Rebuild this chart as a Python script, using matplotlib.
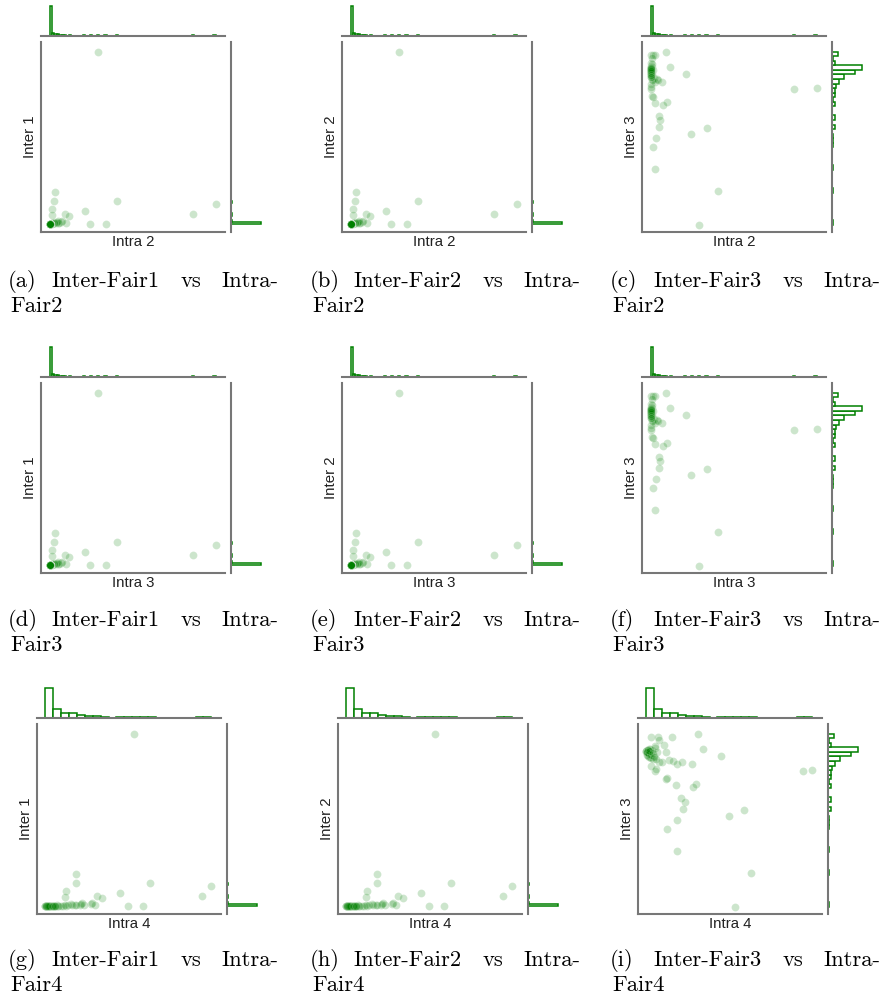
import numpy as np
import matplotlib
matplotlib.use('Agg')
import matplotlib.pyplot as plt

# values (arbitrary units, no ticks in the original)
intra2 = [180, 237, 465, 532, 202, 155, 139, 81, 93, 69, 82, 70, 59, 62, 59, 50, 40, 48, 38, 48, 35, 40,
          36, 40, 46, 38, 36, 34, 38, 34, 35, 34, 37, 44, 52, 40, 34, 36, 46, 55, 35, 39, 35, 34, 35, 34, 38,
          36, 35, 42, 35, 34, 36, 35, 37,
          34, 35, 34, 35, 34, 35, 35, 34, 35, 34,
          34, 35, 34, 36, 35, 34, 35, 36, 34, 35, 34, 35]
# intra 3 looks the same as intra 2 in the picture
intra3 = list(intra2)
intra4 = [298, 346, 503, 531, 327, 282, 257, 188, 204, 169, 181, 172, 136, 150, 144, 125, 96, 124, 96, 121, 58, 92,
          47, 68, 109, 70, 85, 60, 40, 34, 38, 42, 48, 100, 112, 70, 33, 48, 124, 140, 35, 55, 36, 33, 44, 62, 80,
          50, 40, 92, 45, 38, 65, 52, 58,
          34, 36, 34, 39, 33, 42, 37, 35, 41, 34,
          35, 38, 42, 45, 36, 40, 47, 44, 39, 52, 57, 63]
inter1 = [540, 95, 57, 85, 26, 27, 66, 58, 50, 33, 29, 35, 30, 29, 35, 122, 73, 96, 27, 30, 27, 55,
          27, 29, 32, 27, 27, 26, 27, 26, 26, 26, 27, 30, 31, 28, 26, 27, 29, 32, 26, 27, 26, 26, 26, 26, 28,
          27, 26, 30, 27, 26, 27, 26, 28,
          26, 26, 26, 26, 26, 27, 26, 26, 26, 26,
          26, 26, 27, 26, 26, 27, 26, 26, 26, 27, 26, 26]
# inter 2 looks the same as inter 1
inter2 = list(inter1)
inter3 = [25, 124, 429, 433, 313, 295, 475, 540, 496, 449, 391, 381, 349, 338, 316, 282, 256, 191, 408, 386, 429, 405,
          531, 530, 531, 520, 507, 497, 495, 485, 480, 470, 467, 463, 459, 455, 487, 445, 450, 455, 490, 475, 483,
          488, 477, 435, 457, 493, 480, 485, 471, 475, 487, 465, 502,
          489, 486, 491, 484, 488, 485, 492, 487, 489, 486,
          478, 482, 490, 494, 486, 481, 476, 488, 492, 484, 470, 465]

x_data = [intra2, intra3, intra4]
x_names = ['Intra 2', 'Intra 3', 'Intra 4']
y_data = [inter1, inter2, inter3]
y_names = ['Inter 1', 'Inter 2', 'Inter 3']
x_bins = [70, 70, 21]
y_bins = [80, 80, 38]

W, H = 883, 999
fig = plt.figure(figsize=(W / 100, H / 100), dpi=100)


def px_axes(left, top, width, height):
    return fig.add_axes([left / W, 1 - (top + height) / H, width / W, height / H])


spine_col = '#777777'
main_w, main_h = 184, 190
row_tops = [42, 383, 724]
col_lefts = [[41, 342, 642], [41, 342, 642], [37, 338, 638]]
cap_x = [8, 310, 610]
cap_base = [287, 626, 966]
letters = 'abcdefghi'

for r in range(3):
    for c in range(3):
        x = np.array(x_data[r], dtype=float)
        y = np.array(y_data[c], dtype=float)
        left = col_lefts[r][c]
        top = row_tops[r]

        ax = px_axes(left, top, main_w, main_h)
        axt = px_axes(left, top - 6 - 31, main_w, 31)
        axr = px_axes(left + main_w + 6, top, 32, main_h)

        ax.scatter(x, y, s=32, color='green', alpha=0.2, edgecolors='white', linewidths=0.5)
        ax.set_xlim(8, 560)
        ax.set_ylim(3, 569)
        ax.set_xticks([])
        ax.set_yticks([])
        for s in ['top', 'right']:
            ax.spines[s].set_visible(False)
        for s in ['left', 'bottom']:
            ax.spines[s].set_color(spine_col)
            ax.spines[s].set_linewidth(1.5)
        ax.set_xlabel(x_names[r], fontsize=10.8, color='#222222', labelpad=2,
                      family=['Liberation Sans', 'DejaVu Sans'])
        ax.set_ylabel(y_names[c], fontsize=10.8, color='#222222', labelpad=3,
                      family=['Liberation Sans', 'DejaVu Sans'])

        axt.hist(x, bins=x_bins[r], range=(x.min(), x.max()), facecolor='white',
                 edgecolor='green', linewidth=1.1)
        axt.set_xlim(8, 560)
        axr.hist(y, bins=y_bins[c], range=(y.min(), y.max()), orientation='horizontal',
                 facecolor='white', edgecolor='green', linewidth=1.1)
        axr.set_ylim(3, 569)
        for a in (axt, axr):
            a.set_xticks([])
            a.set_yticks([])
            for s in a.spines.values():
                s.set_visible(False)
        axt.spines['bottom'].set_visible(True)
        axt.spines['bottom'].set_color(spine_col)
        axt.spines['bottom'].set_linewidth(1.5)
        axr.spines['left'].set_visible(True)
        axr.spines['left'].set_color(spine_col)
        axr.spines['left'].set_linewidth(1.5)

        # justified caption, two lines
        k = r * 3 + c
        x0 = cap_x[c]
        yb = 1 - cap_base[r] / H
        yb2 = 1 - (cap_base[r] + 25) / H
        kw = dict(fontsize=16.3, family=['cmr10', 'DejaVu Serif'], va='baseline')
        fig.text(x0 / W, yb, '(%s)' % letters[k], ha='left', **kw)
        fig.text((x0 + 43) / W, yb, 'Inter-Fair%d' % (c + 1), ha='left', **kw)
        fig.text((x0 + 173) / W, yb, 'vs', ha='left', **kw)
        fig.text((x0 + 270) / W, yb, 'Intra-', ha='right', **kw)
        fig.text((x0 + 2) / W, yb2, 'Fair%d' % (r + 2), ha='left', **kw)

fig.savefig('out.png', dpi=100)
